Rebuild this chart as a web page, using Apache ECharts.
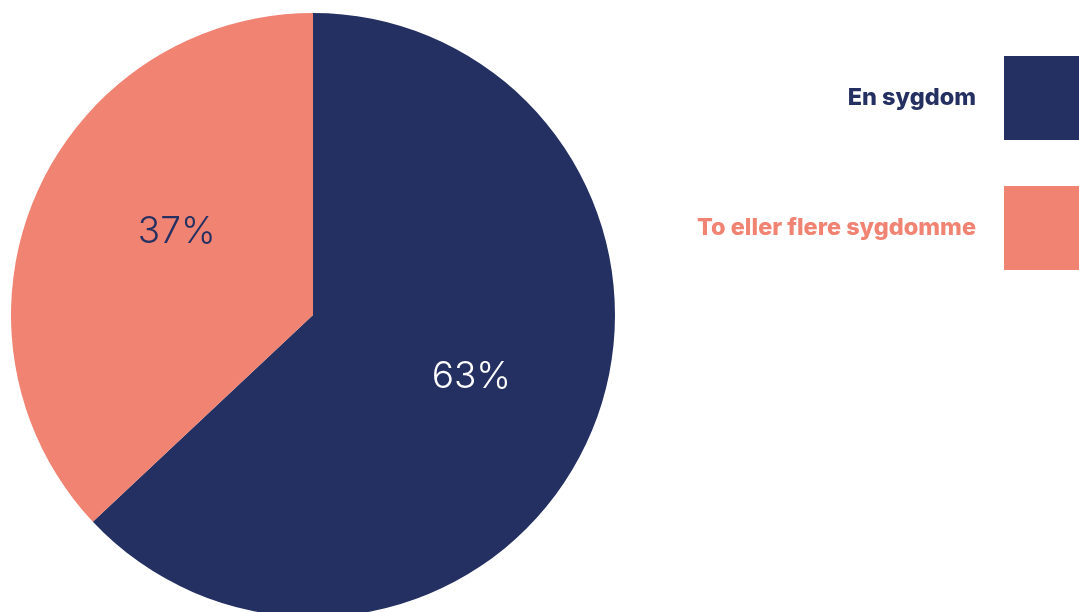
<!DOCTYPE html>
<html>
<head>
<meta charset="utf-8">
<script src="https://cdn.jsdelivr.net/npm/echarts@6/dist/echarts.min.js"></script>
<style>
  html, body { margin: 0; padding: 0; background: #fff; }
  #chart { width: 1079px; height: 612px; }
</style>
</head>
<body>
<div id="chart"></div>
<script>
// data
const categories = ['En sygdom', 'To eller flere sygdomme']
const values = [63, 37]
const colors = ['#243061', '#f08372']
const labelColors = ['#ffffff', '#243061']
// per slice label nudge (px)
const labelOffsets = [[17, 1], [5, -22]]

const chart = echarts.init(document.getElementById('chart'))

const option = {
  animation: false,
  legend: {
    orient: 'vertical',
    right: -9,
    top: 56,
    padding: 0,
    align: 'right',
    itemWidth: 84,
    itemHeight: 84,
    itemGap: 46,
    icon: 'rect',
    selectedMode: false,
    data: categories.map((name, i) => ({
      name,
      textStyle: {
        color: colors[i],
        fontFamily: 'Inter',
        fontWeight: 800,
        fontSize: 23.5,
        padding: [0, 23, 0, 0]
      }
    }))
  },
  series: [
    {
      type: 'pie',
      center: [313, 315],
      radius: 302,
      startAngle: 90,
      clockwise: true,
      labelLine: { show: false },
      emphasis: { disabled: true },
      data: categories.map((name, i) => ({
        name,
        value: values[i],
        itemStyle: { color: colors[i] },
        label: {
          show: true,
          position: 'inside',
          formatter: '{c}%',
          color: labelColors[i],
          fontFamily: 'Inter',
          fontWeight: 300,
          fontSize: 37,
          offset: labelOffsets[i]
        }
      }))
    }
  ]
}

chart.setOption(option)
window.addEventListener('resize', () => chart.resize())
</script>
</body>
</html>
